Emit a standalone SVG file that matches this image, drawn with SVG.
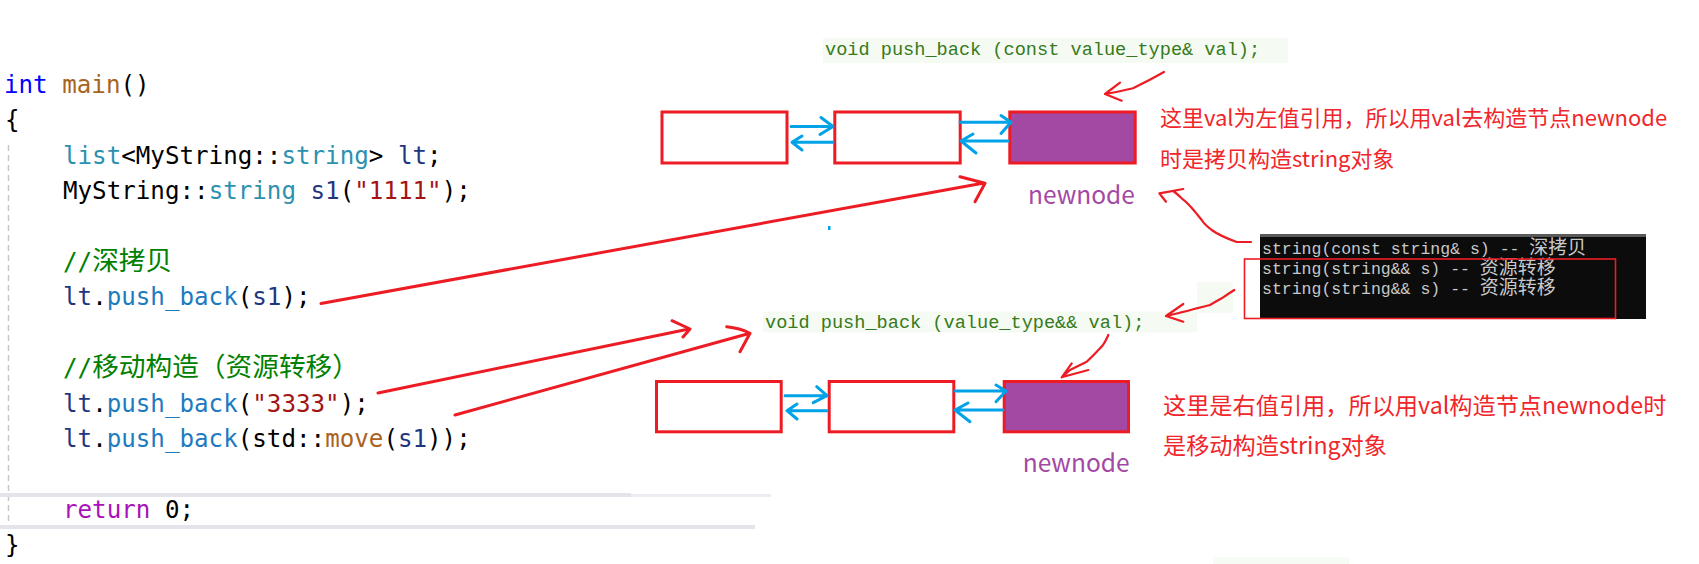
<svg xmlns="http://www.w3.org/2000/svg" width="1699" height="564" viewBox="0 0 1699 564">
<defs>
<style>
.code{font-family:"DejaVu Sans Mono","Liberation Mono",monospace;font-size:24.2px;fill:#000;white-space:pre}
.cjk{font-family:"Noto Sans CJK SC",sans-serif;font-size:26.7px}
.kw{fill:#0000FF}.fn{fill:#A8641E}.ty{fill:#2B91AF}.var{fill:#1F377F}.str{fill:#A31515}.cm{fill:#008000}.mf{fill:#1E7BBF}.ret{fill:#A812B8}
.sig{font-family:"Liberation Mono",monospace;font-size:18.6px;fill:#357A20;white-space:pre}
.sigbg{fill:#F5FBF3}
.node{fill:#fff;stroke:#ED1C24;stroke-width:3}
.newn{fill:#A349A4;stroke:#ED1C24;stroke-width:3}
.lbl{font-family:"Noto Sans CJK SC","Noto Sans",sans-serif;font-size:24.5px;fill:#A349A4}
.note{font-family:"Noto Sans CJK SC","Noto Sans",sans-serif;font-size:22px;fill:#F0262A}
.note2{font-family:"Noto Sans CJK SC","Noto Sans",sans-serif;font-size:23.2px;fill:#F0262A}
.con{font-family:"Liberation Mono",monospace;font-size:16.5px;fill:#C8C8C8;white-space:pre}
.concjk{font-family:"Noto Sans CJK SC",sans-serif;font-size:19px}
.blue{fill:none;stroke:#00A2E8;stroke-width:3;stroke-linecap:round;stroke-linejoin:round}
.red{fill:none;stroke:#ED1C24;stroke-width:3;stroke-linecap:round;stroke-linejoin:round}
.red2{fill:none;stroke:#ED1C24;stroke-width:2.2;stroke-linecap:round;stroke-linejoin:round}
</style>
</defs>
<rect width="1699" height="564" fill="#fff"/>

<g id="code">
<line x1="8.5" y1="145" x2="8.5" y2="524" stroke="#C8C8C8" stroke-width="1.5" stroke-dasharray="6,4"/>
<rect x="0" y="493" width="631" height="4" fill="#E4E4EC"/>
<rect x="631" y="494" width="140" height="3" fill="#ECECF2"/>
<rect x="0" y="525" width="755" height="4" fill="#E4E4EC"/>
<text class="code" x="4" y="93"><tspan class="kw">int</tspan> <tspan class="fn">main</tspan>()</text>
<text class="code" x="5" y="128.4">{</text>
<text class="code" x="63" y="163.8"><tspan class="ty">list</tspan>&lt;MyString::<tspan class="ty">string</tspan>&gt; <tspan class="var">lt</tspan>;</text>
<text class="code" x="63" y="199.2">MyString::<tspan class="ty">string</tspan> <tspan class="var">s1</tspan>(<tspan class="str">"1111"</tspan>);</text>
<text class="code cm" x="63" y="270">//<tspan class="cjk">深拷贝</tspan></text>
<text class="code" x="63" y="305.4"><tspan class="var">lt</tspan>.<tspan class="mf">push_back</tspan>(<tspan class="var">s1</tspan>);</text>
<text class="code cm" x="63" y="376.2">//<tspan class="cjk">移动构造（资源转移）</tspan></text>
<text class="code" x="63" y="411.6"><tspan class="var">lt</tspan>.<tspan class="mf">push_back</tspan>(<tspan class="str">"3333"</tspan>);</text>
<text class="code" x="63" y="447"><tspan class="var">lt</tspan>.<tspan class="mf">push_back</tspan>(std::<tspan class="fn">move</tspan>(<tspan class="var">s1</tspan>));</text>
<text class="code" x="63" y="517.8"><tspan class="ret">return</tspan> 0;</text>
<text class="code" x="5" y="553.2">}</text>
</g>

<g id="sig-lvalue">
<rect class="sigbg" x="823" y="38" width="465" height="25"/>
<text class="sig" x="825" y="55">void push_back (const value_type&amp; val);</text>
</g>
<g id="sig-rvalue">
<rect class="sigbg" x="763" y="311.5" width="434" height="21"/>
<rect class="sigbg" x="1197" y="282" width="36" height="31"/>
<text class="sig" x="765" y="328">void push_back (value_type&amp;&amp; val);</text>
</g>

<g id="top-node1"><rect class="node" x="662" y="112" width="125" height="51"/></g>
<g id="top-node2"><rect class="node" x="834.8" y="112" width="125.4" height="51"/></g>
<g id="top-newnode"><rect class="newn" x="1009.8" y="112" width="125.4" height="51"/>
<text class="lbl" x="1028" y="204">newnode</text></g>

<g id="bot-node1"><rect class="node" x="656.5" y="381.5" width="124.7" height="50.3"/></g>
<g id="bot-node2"><rect class="node" x="829.2" y="381.5" width="124.6" height="50.3"/></g>
<g id="bot-newnode"><rect class="newn" x="1004.2" y="381.5" width="124.3" height="50.3"/>
<text class="lbl" x="1022.7" y="471.7">newnode</text></g>

<g id="note-lvalue">
<text class="note" x="1160" y="126">这里val为左值引用，所以用val去构造节点newnode</text>
<text class="note" x="1160" y="167">时是拷贝构造string对象</text>
</g>
<g id="note-rvalue">
<text class="note2" x="1163" y="414">这里是右值引用，所以用val构造节点newnode时</text>
<text class="note2" x="1163" y="454">是移动构造string对象</text>
</g>

<g id="console">
<rect x="1260" y="234" width="386" height="85" fill="#0C0C0C"/>
<rect x="1260" y="234" width="386" height="3" fill="#5A5A5A"/>
<text class="con" x="1262" y="254">string(const string&amp; s) -- <tspan class="concjk">深拷贝</tspan></text>
<text class="con" x="1262" y="274">string(string&amp;&amp; s) -- <tspan class="concjk">资源转移</tspan></text>
<text class="con" x="1262" y="294">string(string&amp;&amp; s) -- <tspan class="concjk">资源转移</tspan></text>
<rect x="1244.5" y="259" width="371" height="59.5" fill="none" stroke="#ED1C24" stroke-width="1.6"/>
</g>

<g id="connectors">
<path class="blue" d="M791,126.5 H833 M821,117.5 L833,126.5 L820,134.5"/>
<path class="blue" d="M833,142.3 H792 M802,136 L792,142.3 L802,150"/>
<path class="blue" d="M960,122.3 H1011 M1001,115.5 L1011,122.3 L1001,133.5"/>
<path class="blue" d="M1008,141 H961 M973,134 L961,141 L976,153"/>
<path class="blue" d="M785,395.7 H827 M816.7,386.7 L827,395.7 L813.3,402.7"/>
<path class="blue" d="M827,410.7 H787 M797,404 L787,410.7 L797,419"/>
<path class="blue" d="M955,391 H1006 M996,385 L1006,391 L996,401.7"/>
<path class="blue" d="M1003,410 H955 M968,403 L955,410 L970,421.7"/>

<path class="red" d="M321,303.5 L984,183 M960,176.7 L985,183.3 L975,201.7"/>
<path class="red" d="M378,393 L689,329 M672,320.7 L690,329 L683,337"/>
<path class="red" d="M455,415 L749,333.5 M726.7,326.7 Q740,328 750,333.3 L740,351.7"/>
<path class="red2" d="M1164,72 Q1150,80 1133,88.3 Q1118,92 1105,94 M1120,82.7 L1105,94 L1121.7,100.7"/>
<path class="red2" d="M1108.3,335 Q1104,345 1100,348.3 Q1092,357 1086.7,361.7 Q1078,366 1070,370 L1061.7,377.3 M1071.7,363.3 L1061.7,377.3 L1088.3,370"/>
<path class="red2" d="M1251,242 L1236.7,242 Q1220,236 1211.7,230 Q1204,224 1201.7,220 Q1197,214 1195,211.7 Q1188,203 1181.7,198.3 Q1176,193 1173.3,191 L1159.3,193.3 L1166,201.7 M1159.3,193.3 L1183.3,189"/>
<path class="red2" d="M1234.3,290 Q1228,294 1221.7,298.3 Q1215,302 1210,305 Q1203,307 1196.7,308.3 Q1188,311 1180,312.7 L1166,316 M1183.3,304 L1166,316 L1183.3,321.7"/>
</g>
<rect x="828" y="226" width="2.5" height="4" fill="#00A2E8"/>
<rect x="1213" y="557" width="136" height="7" fill="#F6FBF4"/>
</svg>
